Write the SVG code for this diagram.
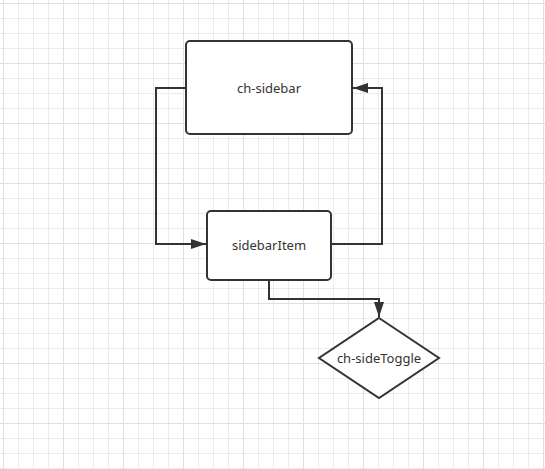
<svg xmlns="http://www.w3.org/2000/svg" width="545" height="469" viewBox="0 0 545 469">
<defs>
<pattern id="minor" x="3" y="3" width="15" height="15" patternUnits="userSpaceOnUse">
<path d="M0.5 0V15M0 0.5H15" stroke="#ececec" stroke-width="1" fill="none"/>
</pattern>
<pattern id="major" x="3" y="3" width="60" height="60" patternUnits="userSpaceOnUse">
<path d="M0.5 0V60M0 0.5H60" stroke="#e0e0e0" stroke-width="1" fill="none"/>
</pattern>
<marker id="arrow" viewBox="0 0 15 10" refX="15" refY="5" markerWidth="15" markerHeight="10" markerUnits="userSpaceOnUse" orient="auto">
<path d="M0 0L15 5L0 10Z" fill="#333333"/>
</marker>
<style>
.node{fill:#ffffff;stroke:#333333;stroke-width:2}
.edge{fill:none;stroke:#333333;stroke-width:2}
.label{font-family:"Noto Sans","Liberation Sans",sans-serif;font-size:13px;fill:#333333;text-anchor:middle;dominant-baseline:central}
</style>
</defs>
<rect width="545" height="469" fill="#ffffff"/>
<rect width="545" height="469" fill="url(#minor)"/>
<rect width="545" height="469" fill="url(#major)"/>
<g id="connectors">
<path class="edge" d="M186 88H156V244H206" marker-end="url(#arrow)"/>
<path class="edge" d="M331 244H382V88H353" marker-end="url(#arrow)"/>
<path class="edge" d="M269 280V299H379V317" marker-end="url(#arrow)"/>
</g>
<g id="ch-sidebar">
<rect class="node" x="186" y="41" width="166" height="93" rx="4"/>
<text class="label" x="269" y="88">ch-sidebar</text>
</g>
<g id="sidebarItem">
<rect class="node" x="207" y="211" width="124" height="69" rx="4"/>
<text class="label" x="269" y="245">sidebarItem</text>
</g>
<g id="ch-sideToggle">
<polygon class="node" points="379,318 439,358 379,398 319,358"/>
<text class="label" x="379" y="358">ch-sideToggle</text>
</g>
</svg>
